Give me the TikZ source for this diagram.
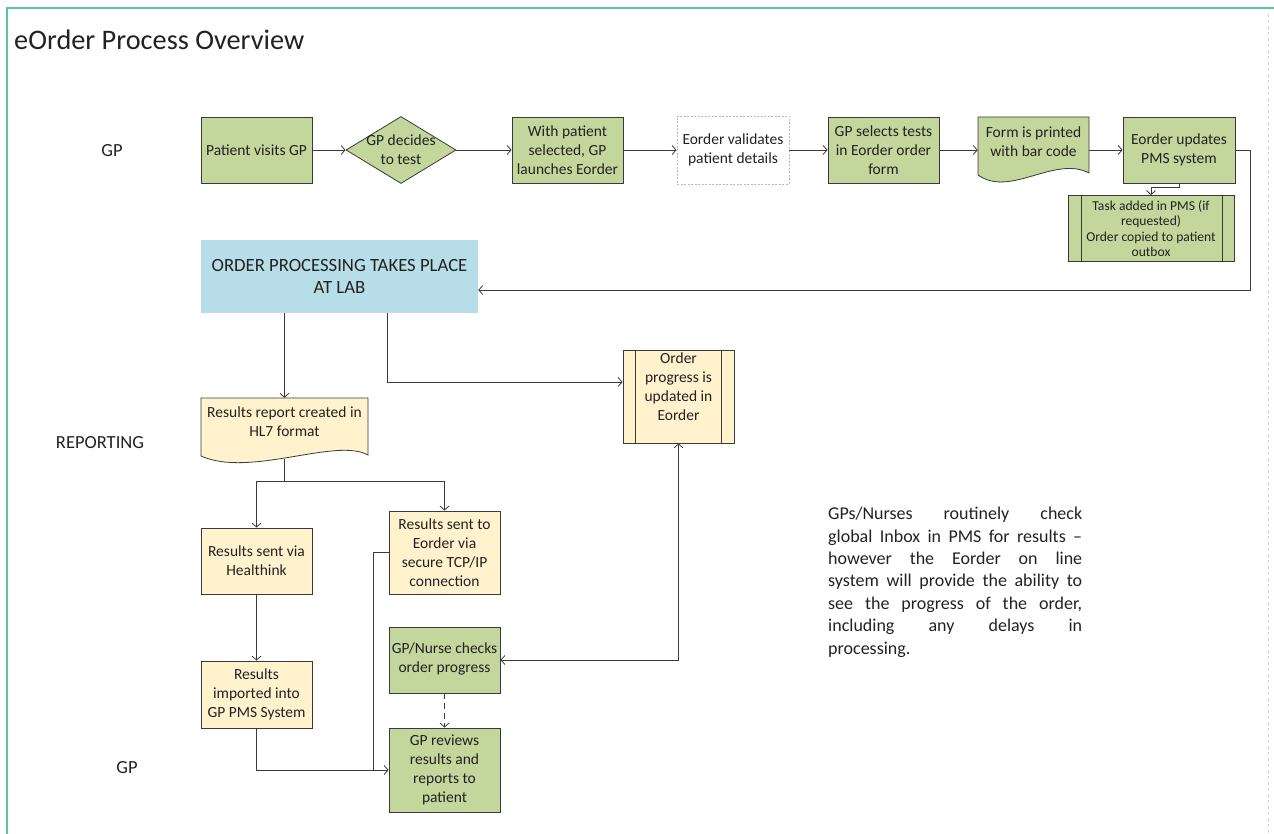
\documentclass[tikz,border=0pt]{standalone}
\usepackage{fontspec}
\setmainfont{Carlito}
\usetikzlibrary{arrows.meta,shapes.geometric}
\definecolor{gfill}{HTML}{C3D69B}
\definecolor{yfill}{HTML}{FFF2CC}
\definecolor{bfill}{HTML}{B7DEE8}
\definecolor{edge}{HTML}{3A3A3A}
\definecolor{framec}{HTML}{5CC4A2}
\definecolor{txt}{HTML}{222222}
\begin{document}
\begin{tikzpicture}[x=1pt,y=-1pt,
  box/.style={draw=edge, line width=0.8pt, align=center, inner sep=1pt, text=txt, font=\fontsize{15.5}{19}\selectfont},
  gbox/.style={box, fill=gfill},
  ybox/.style={box, fill=yfill},
  ghost/.style={draw=none, fill=none, inner sep=0pt},
  lbl/.style={text=txt, align=center, inner sep=0pt, font=\fontsize{15.5}{19}\selectfont},
  lane/.style={text=txt, font=\fontsize{18.5}{22}\selectfont},
  conn/.style={draw=edge, line width=0.8pt, -{Straight Barb[length=4pt,width=9pt]}},
  plain/.style={draw=edge, line width=0.8pt},
  docshape/.style={draw=edge, line width=0.8pt},
]
\useasboundingbox (0,0) rectangle (1274,834);
% frame
\draw[framec, line width=2.5pt] (7,834) -- (7,8) -- (1274,8);
\draw[gray!35, dashed, line width=0.8pt] (1268,14) -- (1268,834);

% title and lanes
\node[anchor=west, inner sep=0pt, text=txt, font=\fontsize{28.3}{32}\selectfont] (title) at (14,40) {eOrder Process Overview};
\node[lane] (lgp1) at (112,151) {GP};
\node[lane] (lrep) at (100,443) {REPORTING};
\node[lane] (lgp2) at (127,768) {GP};

% row 1
\node[gbox, minimum width=111pt, minimum height=66pt] (pv) at (256.5,150) {Patient visits GP};
\node[diamond, draw=edge, line width=0.8pt, fill=gfill, minimum width=110pt, minimum height=67pt, inner sep=0pt] (dec) at (401,150) {};
\node[lbl] (dect) at (401,150) {GP decides\\to test};
\node[gbox, minimum width=111pt, minimum height=66pt] (wp) at (567.5,150) {With patient\\selected, GP\\launches Eorder};
\node[box, draw=gray!55, dashed, dash pattern=on 2pt off 1.5pt, minimum width=112pt, minimum height=68pt] (ev) at (733,150) {Eorder validates\\patient details};
\node[gbox, minimum width=111pt, minimum height=66pt] (gs) at (883.5,150) {GP selects tests\\in Eorder order\\form};
% document shape: form printed
\fill[gfill] (978,117) -- (1089,117) -- (1089,173) .. controls (1055,155) and (1010,198) .. (978,175) -- cycle;
\draw[docshape] (978,117) -- (1089,117) -- (1089,173) .. controls (1055,155) and (1010,198) .. (978,175) -- cycle;
\node[ghost, minimum width=111pt, minimum height=66pt] (fp) at (1033.5,150) {};
\node[lbl] (fpt) at (1033.5,142) {Form is printed\\with bar code};
\node[gbox, minimum width=112pt, minimum height=66pt] (eu) at (1179,150) {Eorder updates\\PMS system};
\node[gbox, minimum width=166pt, minimum height=66pt, inner sep=0pt, font=\fontsize{13.6}{15.2}\selectfont] (task) at (1151,228.5) {Task added in PMS (if\\requested)\\Order copied to patient\\outbox};
\draw[plain] ([xshift=14pt]task.north west) -- ([xshift=14pt]task.south west);
\draw[plain] ([xshift=-12pt]task.north east) -- ([xshift=-12pt]task.south east);

% lab
\node[fill=bfill, minimum width=277pt, minimum height=73pt, align=center, text=txt, font=\fontsize{18.7}{22}\selectfont] (lab) at (339.5,276.5) {ORDER PROCESSING TAKES PLACE\\AT LAB};

% results report document
\fill[yfill] (201,398) -- (368,398) -- (368,455) .. controls (336,437) and (250,478) .. (201,456) -- cycle;
\draw[docshape] (201,398) -- (368,398) -- (368,455) .. controls (336,437) and (250,478) .. (201,456) -- cycle;
\node[ghost, minimum width=167pt, minimum height=60pt] (rr) at (284.5,428) {};
\node[lbl] (rrt) at (284.5,422) {Results report created in\\HL7 format};
\coordinate (rrb) at (284.5,459);

% order progress
\node[ybox, minimum width=111pt, minimum height=93pt] (op) at (678.5,396.5) {};
\node[lbl] (opt) at (678.5,387) {Order\\progress is\\updated in\\Eorder};
\draw[plain] ([xshift=13pt]op.north west) -- ([xshift=13pt]op.south west);
\draw[plain] ([xshift=-13pt]op.north east) -- ([xshift=-13pt]op.south east);

% lower boxes
\node[ybox, minimum width=111pt, minimum height=66pt] (hs) at (256.5,561) {Results sent via\\Healthink};
\node[ybox, minimum width=111pt, minimum height=83pt] (re) at (444.5,552.5) {Results sent to\\Eorder via\\secure TCP/IP\\connection};
\node[ybox, minimum width=111pt, minimum height=67pt] (ri) at (256.5,694.5) {Results\\imported into\\GP PMS System};
\node[gbox, minimum width=111pt, minimum height=66pt] (gn) at (444.5,660) {};
\node[lbl] (gnt) at (444.5,659) {GP/Nurse checks\\order progress};
\node[gbox, minimum width=111pt, minimum height=84pt] (gr) at (444.5,770) {GP reviews\\results and\\reports to\\patient};

% note
\node[anchor=north west, inner sep=0pt, text=txt, font=\fontsize{18}{22.4}\selectfont, align=left] (note) at (828,507) {%
\makebox[254pt][s]{GPs/Nurses routinely check}\\
\makebox[254pt][s]{global Inbox in PMS for results –}\\
\makebox[254pt][s]{however the Eorder on line}\\
\makebox[254pt][s]{system will provide the ability to}\\
\makebox[254pt][s]{see the progress of the order,}\\
\makebox[254pt][s]{including any delays in}\\
processing.};

% connectors row 1
\draw[conn] (pv.east) -- (dec.west);
\draw[conn] (dec.east) -- (wp.west);
\draw[conn] (wp.east) -- (ev.west);
\draw[conn] (ev.east) -- (gs.west);
\draw[conn] (gs.east) -- (fp.west);
\draw[conn] (fp.east) -- (eu.west);
\draw[conn] (eu.south) -- (1179,187) -| (task.north);
\draw[conn] (eu.east) -- (1250,150) -- (1250,290) -- (lab.east |- 0,290);

% lab outputs
\draw[conn] (lab.south -| rr.north) -- (rr.north);
\draw[conn] (lab.south -| 387,0) -- (387,382) -- (op.west |- 0,382);

% reporting
\draw[plain] (rrb) -- (284.5,481) coordinate (br);
\draw[conn] (br) -| (hs.north);
\draw[conn] (br) -| (re.north);
\draw[conn] (hs.south) -- (ri.north);
\draw[conn] (ri.south) |- (gr.west);
\draw[plain] (re.west) -- (373,552.5) -- (373,770);
\draw[conn, dashed, dash pattern=on 6pt off 4pt] (gn.south) -- (gr.north);
\draw[draw=edge, line width=0.8pt, {Straight Barb[length=4pt,width=9pt]}-{Straight Barb[length=4pt,width=9pt]}] (op.south) |- (gn.east);
\end{tikzpicture}
\end{document}
